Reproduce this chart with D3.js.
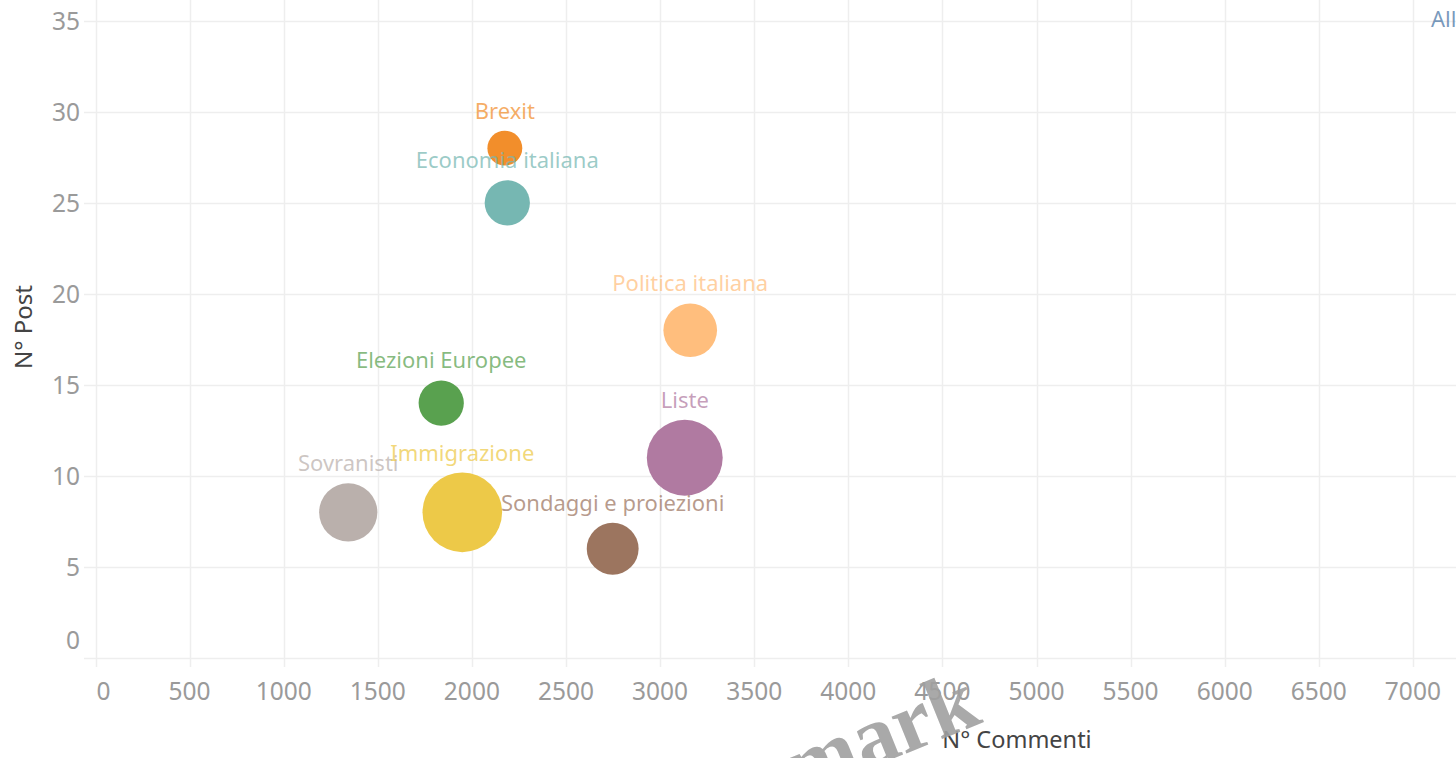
<!DOCTYPE html>
<html>
<head>
<meta charset="utf-8">
<script src="https://cdn.jsdelivr.net/npm/d3@7"></script>
<style>
  html, body { margin: 0; padding: 0; background: #fff; overflow: hidden; }
  svg { display: block; font-family: "Noto Sans", "Open Sans", sans-serif; }
</style>
</head>
<body>
<svg id="chart" width="1456" height="758"></svg>
<script>
// ---- data ----
const categories = ["Brexit", "Economia italiana", "Politica italiana", "Liste", "Elezioni Europee", "Sovranisti", "Immigrazione", "Sondaggi e proiezioni"];
const commenti   = [2175, 2188, 3160, 3131, 1837, 1343, 1949, 2748];
const posts      = [28, 25, 18, 11, 14, 8, 8, 6];
const sizes      = [19, 32, 45, 90, 32, 53, 99, 42];
const colors     = ["#F28E2B", "#76B7B2", "#FFBE7D", "#B07AA1", "#59A14F", "#BAB0AC", "#EDC948", "#9C755F"];
const xTicks     = [0, 500, 1000, 1500, 2000, 2500, 3000, 3500, 4000, 4500, 5000, 5500, 6000, 6500, 7000];
const yTicks     = [0, 5, 10, 15, 20, 25, 30, 35];
const xTitle = "N° Commenti";
const yTitle = "N° Post";

const svg = d3.select("#chart");
const W = 1456, H = 758;

const x = d3.scaleLinear().domain([0, 7000]).range([95.5, 1412.9]);
const y = d3.scaleLinear().domain([0, 35]).range([658, 20.7]);
const r = d3.scaleSqrt().domain([0, 100]).range([0, 40]);

const grid = svg.append("g");
// vertical gridlines
grid.selectAll("line.v").data(xTicks).join("line")
  .attr("x1", d => Math.round(x(d)) + 0.5).attr("x2", d => Math.round(x(d)) + 0.5)
  .attr("y1", 0).attr("y2", 667)
  .attr("stroke", "#eeeeee").attr("stroke-width", 1.5);
// horizontal gridlines
grid.selectAll("line.h").data(yTicks).join("line")
  .attr("x1", 84).attr("x2", W)
  .attr("y1", d => Math.round(y(d)) + 0.5).attr("y2", d => Math.round(y(d)) + 0.5)
  .attr("stroke", "#eeeeee").attr("stroke-width", 1.5);

// x tick labels
svg.append("g").selectAll("text").data(xTicks).join("text")
  .attr("x", (d, i) => i === 0 ? x(d) + 1 : x(d))
  .attr("y", 700)
  .attr("text-anchor", (d, i) => i === 0 ? "start" : "middle")
  .attr("font-size", 24.5)
  .attr("fill", "#9a9a9a")
  .text(d => d);

// y tick labels
svg.append("g").selectAll("text").data(yTicks).join("text")
  .attr("x", 80)
  .attr("y", d => d === 0 ? y(d) - 9 : y(d) + 9)
  .attr("text-anchor", "end")
  .attr("font-size", 24.5)
  .attr("fill", "#9a9a9a")
  .text(d => d);

// axis titles
svg.append("text")
  .attr("x", 1017).attr("y", 748)
  .attr("text-anchor", "middle")
  .attr("font-size", 23.5)
  .attr("fill", "#444")
  .text(xTitle);
svg.append("text")
  .attr("transform", "translate(32,327) rotate(-90)")
  .attr("text-anchor", "middle")
  .attr("font-size", 24)
  .attr("fill", "#444")
  .text(yTitle);

// data
const data = categories.map((c, i) => ({ c, x: commenti[i], y: posts[i], s: sizes[i], col: colors[i] }));

svg.append("g").selectAll("circle").data(data).join("circle")
  .attr("cx", d => x(d.x))
  .attr("cy", d => y(d.y))
  .attr("r", d => r(d.s))
  .attr("fill", d => d.col);

svg.append("g").selectAll("text").data(data).join("text")
  .attr("x", d => x(d.x))
  .attr("y", d => y(d.y) - r(d.s) - 12)
  .attr("text-anchor", "middle")
  .attr("font-size", 22)
  .attr("fill", d => d.col)
  .attr("fill-opacity", 0.72)
  .text(d => d.c);

// partially visible label at top right
svg.append("text")
  .attr("x", 1431).attr("y", 27)
  .attr("font-size", 22)
  .attr("fill", "#4E79A7")
  .attr("fill-opacity", 0.75)
  .text("All");

// watermark
svg.append("text")
  .attr("transform", "translate(984,722) rotate(-22)")
  .attr("text-anchor", "end")
  .attr("font-family", "Liberation Serif, DejaVu Serif, serif")
  .attr("font-weight", "bold")
  .attr("font-size", 86)
  .attr("fill", "#a0a0a0")
  .attr("fill-opacity", 0.9)
  .text("watermark");
</script>
</body>
</html>
